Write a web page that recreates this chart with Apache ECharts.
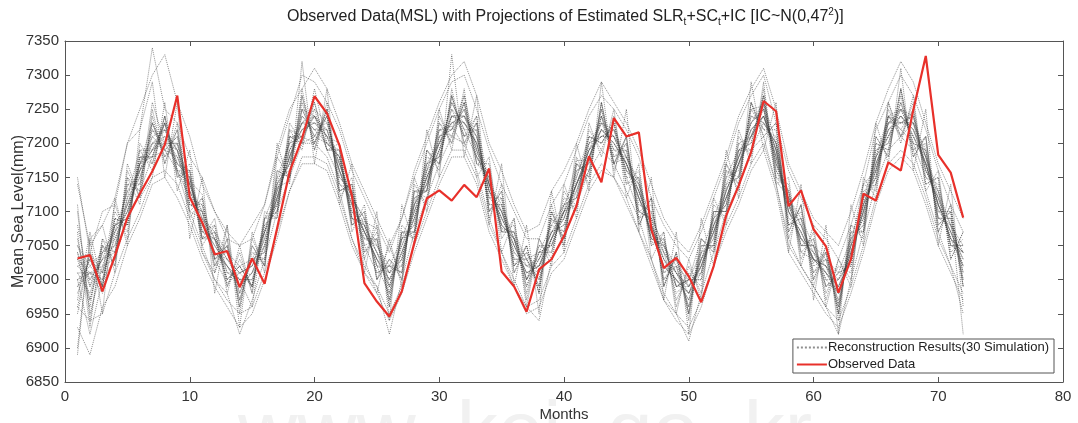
<!DOCTYPE html>
<html>
<head>
<meta charset="utf-8">
<script src="https://cdn.jsdelivr.net/npm/echarts@6/dist/echarts.min.js"></script>
<style>
  html, body { margin: 0; padding: 0; background: #fff; }
  #chart { width: 1078px; height: 423px; }
</style>
</head>
<body>
<div id="chart"></div>
<script>
// x axis: months 1..72
const months = [
  1, 2, 3, 4, 5, 6, 7, 8, 9, 10, 11, 12,
  13, 14, 15, 16, 17, 18, 19, 20, 21, 22, 23, 24,
  25, 26, 27, 28, 29, 30, 31, 32, 33, 34, 35, 36,
  37, 38, 39, 40, 41, 42, 43, 44, 45, 46, 47, 48,
  49, 50, 51, 52, 53, 54, 55, 56, 57, 58, 59, 60,
  61, 62, 63, 64, 65, 66, 67, 68, 69, 70, 71, 72
]

// observed mean sea level (mm)
const observed = [
  7031, 7036, 6983, 7035, 7091, 7126, 7159, 7198, 7270, 7121, 7084, 7037,
  7042, 6989, 7031, 6994, 7075, 7158, 7207, 7269, 7244, 7197, 7123, 6995,
  6968, 6946, 6983, 7054, 7119, 7131, 7116, 7139, 7121, 7163, 7012, 6990,
  6953, 7015, 7030, 7064, 7108, 7181, 7143, 7237, 7210, 7216, 7074, 7017,
  7032, 7005, 6967, 7020, 7094, 7138, 7187, 7262, 7247, 7108, 7131, 7074,
  7049, 6981, 7030, 7126, 7116, 7172, 7160, 7249, 7328, 7183, 7157, 7091
]

// 30 reconstruction runs (estimated from the tangle of dotted lines)
const sim01 = [7040,6990,7050,7040,7120,7190,7190,7230,7155,7145,7125,7030, 6995,7010,6990,7090,7135,7145,7250,7240,7210,7200,7090,7085, 7075,6990,7060,7070,7160,7220,7225,7195,7230,7140,7075,7070, 7000,7050,7050,7100,7175,7175,7240,7170,7180,7145,7055,7055, 6990,7000,7060,7045,7135,7150,7250,7255,7145,7120,7080,7025, 7040,6965,7050,7140,7160,7240,7210,7230,7190,7100,7100,6990]
const sim02 = [6980,7030,6990,7090,7080,7170,7230,7180,7200,7110,7100,7020, 7050,6970,7030,7040,7150,7200,7210,7260,7190,7150,7130,7050, 7010,7020,7010,7120,7130,7230,7210,7260,7170,7150,7070,7070, 7030,6990,7090,7060,7150,7210,7200,7230,7150,7100,7090,7000, 7020,6960,7040,7050,7150,7190,7200,7270,7160,7120,7050,7060, 6990,7010,7020,7120,7150,7240,7220,7200,7190,7090,7090,7010]
const sim03 = [7060,6970,7040,7050,7130,7140,7220,7190,7210,7150,7060,7070, 7000,7020,6990,7080,7100,7210,7200,7210,7240,7140,7120,7090, 7020,6980,7060,7080,7170,7180,7250,7210,7220,7110,7110,7030, 7030,7000,7060,7110,7120,7160,7240,7190,7190,7110,7100,7040, 6980,7000,7000,7100,7100,7190,7190,7230,7200,7080,7090,7010, 7030,6960,7060,7080,7190,7200,7260,7200,7150,7130,7050,7050]
const sim04 = [6990,7010,7000,7080,7090,7180,7180,7240,7160,7120,7110,7030, 7040,6980,7030,7030,7140,7170,7250,7210,7200,7190,7090,7060, 7050,7010,7020,7110,7140,7190,7260,7220,7180,7150,7080,7060, 6990,7040,7050,7100,7110,7200,7210,7220,7160,7140,7060,7050, 7010,6970,7030,7060,7140,7150,7240,7230,7200,7110,7060,7050, 6990,7000,7030,7110,7150,7230,7230,7240,7160,7120,7060,7040]
const sim05 = [7100,6950,7020,7030,7150,7130,7260,7200,7170,7160,7070,7080, 7010,7000,6960,7090,7110,7220,7190,7280,7200,7180,7080,7100, 7000,7030,7000,7130,7120,7210,7220,7270,7190,7120,7120,7020, 7040,7010,7080,7070,7160,7170,7250,7180,7200,7100,7110,7010, 7030,6990,7010,7090,7110,7200,7210,7260,7170,7130,7040,7030, 7020,6970,7050,7090,7180,7210,7250,7210,7180,7090,7080,7000]
const sim06 = [7030,7010,6980,7070,7100,7170,7210,7220,7190,7100,7090,7060, 7030,7010,7020,7070,7110,7190,7220,7240,7210,7160,7100,7080, 7040,6990,7050,7090,7160,7180,7240,7240,7210,7120,7100,7040, 7020,7010,7060,7100,7140,7190,7210,7210,7170,7130,7070,7030, 7010,6990,7020,7070,7130,7180,7220,7240,7190,7090,7080,7030, 7020,6990,7030,7100,7160,7230,7240,7220,7180,7110,7060,7040]
const sim07 = [6900,7060,7080,7010,7170,7120,7150,7260,7130,7190,7040,7010, 7080,6950,7060,7020,7180,7150,7280,7190,7260,7120,7150,7030, 6980,7060,6990,7150,7100,7250,7190,7280,7150,7180,7040,7090, 6960,7060,7020,7140,7090,7230,7180,7250,7120,7170,7030,7070, 6950,7030,6970,7120,7080,7220,7170,7290,7140,7150,7020,7080, 6960,7030,6990,7150,7120,7260,7200,7270,7130,7160,7030,7070]
const sim08 = [7010,6980,7040,7060,7100,7160,7190,7200,7200,7140,7080,7040, 7020,6990,7010,7050,7130,7180,7240,7220,7230,7160,7120,7070, 7030,7000,7030,7100,7140,7210,7230,7240,7190,7140,7090,7060, 7000,7030,7070,7080,7140,7180,7230,7190,7180,7120,7080,7020, 7000,6970,7030,7070,7120,7170,7230,7250,7180,7110,7060,7040, 7000,6980,7050,7090,7180,7210,7250,7210,7170,7100,7080,7020]
const sim09 = [6950,7040,7010,7110,7060,7200,7170,7230,7150,7170,7060,7090, 6990,7040,6980,7100,7090,7220,7210,7200,7250,7130,7140,7040, 7060,6970,7070,7060,7190,7170,7270,7200,7230,7100,7130,7010, 7050,6980,7100,7050,7170,7150,7260,7170,7210,7090,7120,6990, 7040,6950,7060,7040,7160,7140,7260,7220,7220,7070,7110,7000, 7050,6950,7080,7070,7200,7190,7280,7180,7210,7070,7110,6990]
const sim10 = [7020,7000,7030,7040,7120,7150,7210,7190,7180,7130,7100,7040, 7030,7000,7000,7070,7120,7190,7220,7230,7210,7180,7100,7070, 7030,7010,7030,7110,7150,7190,7240,7230,7200,7130,7100,7040, 7020,7020,7060,7090,7140,7180,7220,7210,7170,7120,7080,7030, 6990,6990,7020,7080,7120,7170,7210,7240,7190,7100,7070,7030, 7020,6980,7040,7110,7160,7220,7230,7230,7170,7110,7070,7030]
const sim11 = [7070,6930,7060,7020,7150,7110,7250,7170,7230,7090,7120,7010, 7060,6960,7050,7020,7160,7150,7270,7190,7250,7130,7140,7030, 7080,6960,7080,7060,7190,7160,7280,7200,7240,7090,7140,7010, 7050,6980,7110,7050,7180,7140,7260,7160,7210,7080,7120,6990, 7040,6940,7060,7040,7170,7130,7260,7210,7230,7060,7110,6990, 7050,6940,7080,7060,7210,7180,7280,7180,7210,7070,7110,6990]
const sim12 = [7000,7020,7000,7080,7090,7170,7190,7220,7170,7150,7070,7060, 7010,7010,7020,7050,7130,7170,7240,7220,7200,7180,7090,7080, 7020,7010,7030,7110,7140,7210,7220,7250,7190,7140,7080,7060, 7000,7030,7060,7100,7130,7190,7210,7210,7160,7130,7070,7040, 7010,6980,7010,7080,7110,7180,7210,7250,7170,7110,7060,7040, 7010,6990,7030,7110,7160,7230,7230,7230,7160,7120,7060,7040]
const sim13 = [7140,7050,7080,7120,7200,7220,7340,7250,7230,7180,7150,7100, 7060,7050,7060,7110,7180,7240,7300,7290,7260,7220,7160,7120, 7080,7040,7090,7150,7200,7250,7290,7300,7250,7190,7140,7100, 7060,7060,7110,7140,7190,7240,7270,7250,7220,7180,7120,7080, 7050,7030,7070,7120,7170,7230,7270,7300,7230,7160,7120,7080, 7060,7030,7080,7140,7220,7260,7300,7270,7220,7160,7110,7070]
const sim14 = [6930,6890,6960,6990,7050,7090,7140,7150,7120,7080,7030,6990, 6960,6930,6950,7000,7060,7130,7170,7170,7160,7110,7050,7010, 6980,6940,6980,7040,7090,7140,7180,7180,7140,7070,7030,6990, 6950,6960,7010,7030,7080,7130,7160,7150,7110,7070,7020,6970, 6940,6920,6960,7020,7070,7110,7160,7190,7130,7040,7010,6980, 6950,6930,6980,7040,7110,7160,7180,7160,7110,7050,7010,6970]
const sim15 = [7050,7020,7040,7070,7130,7160,7220,7200,7200,7140,7090,7070, 7040,7020,7030,7070,7140,7200,7230,7250,7230,7170,7120,7090, 7050,7020,7060,7110,7170,7200,7250,7230,7210,7140,7110,7060, 7030,7040,7080,7110,7150,7200,7230,7220,7180,7140,7090,7050, 7020,7000,7040,7090,7140,7180,7230,7260,7200,7120,7090,7050, 7030,7010,7060,7120,7180,7240,7250,7240,7180,7130,7080,7050]
const sim16 = [6970,7070,6990,7100,7070,7190,7160,7240,7150,7160,7050,7080, 6980,7050,6980,7090,7090,7230,7200,7260,7190,7200,7070,7110, 7000,7050,7000,7140,7110,7240,7200,7270,7170,7170,7060,7090, 6970,7060,7030,7130,7100,7220,7190,7240,7140,7160,7050,7070, 6960,7020,6980,7110,7090,7210,7180,7280,7150,7140,7030,7070, 6970,7030,7000,7140,7130,7260,7210,7260,7140,7150,7030,7070]
const sim17 = [7030,6970,7050,7030,7140,7140,7230,7180,7220,7110,7110,7030, 7050,6970,7040,7030,7150,7160,7260,7200,7240,7140,7130,7050, 7060,6970,7070,7070,7180,7170,7270,7210,7230,7100,7120,7020, 7040,6990,7100,7060,7170,7160,7250,7170,7200,7090,7100,7000, 7030,6950,7050,7050,7160,7150,7250,7220,7210,7080,7100,7010, 7040,6950,7070,7070,7200,7190,7270,7190,7200,7080,7100,7000]
const sim18 = [6990,7030,7010,7080,7090,7170,7180,7230,7160,7150,7060,7060, 7000,7020,6990,7080,7100,7210,7210,7240,7190,7190,7080,7090, 7010,7020,7010,7130,7130,7220,7210,7260,7180,7150,7070,7070, 6990,7040,7040,7110,7120,7210,7200,7230,7150,7150,7060,7060, 6990,7000,7000,7100,7100,7190,7200,7270,7160,7130,7050,7050, 6990,7010,7020,7120,7140,7240,7220,7250,7150,7140,7050,7050]
const sim19 = [7080,6990,7030,7050,7110,7160,7200,7210,7190,7130,7080,7050, 7020,6990,7010,7060,7120,7180,7230,7230,7220,7160,7110,7070, 7030,6990,7040,7100,7150,7190,7240,7230,7200,7130,7090,7050, 7010,7020,7070,7090,7140,7180,7220,7200,7170,7120,7070,7020, 7000,6980,7020,7070,7130,7170,7220,7240,7180,7100,7070,7030, 7010,6980,7040,7100,7170,7220,7240,7220,7170,7110,7070,7030]
const sim20 = [6890,7060,6950,7120,7050,7220,7290,7150,7260,7060,7150,6980, 7080,6930,7070,7010,7200,7140,7320,7170,7280,7110,7170,7010, 7100,6940,7110,7050,7220,7150,7330,7180,7270,7080,7170,6990, 7080,6950,7130,7040,7200,7130,7290,7150,7250,7070,7150,6970, 7070,6920,7090,7020,7190,7120,7290,7190,7260,7040,7140,6970, 7080,6920,7110,7050,7230,7170,7310,7160,7250,7050,7140,6960]
const sim21 = [7010,7010,7020,7070,7100,7160,7190,7210,7180,7140,7080,7050, 7020,7000,7010,7060,7120,7180,7220,7230,7210,7170,7110,7070, 7040,7000,7040,7090,7150,7200,7230,7240,7200,7130,7090,7050, 7010,7020,7060,7090,7140,7190,7220,7200,7170,7130,7080,7030, 7000,6980,7030,7070,7120,7170,7220,7240,7190,7100,7060,7030, 7010,6990,7040,7100,7170,7220,7240,7220,7170,7110,7060,7020]
const sim22 = [7040,6960,7060,7040,7140,7130,7230,7190,7210,7110,7100,7030, 7050,6980,7030,7040,7140,7170,7250,7210,7240,7150,7130,7060, 7060,6980,7060,7080,7170,7180,7260,7220,7220,7110,7110,7030, 7030,7000,7090,7070,7160,7170,7240,7180,7190,7100,7090,7010, 7020,6960,7040,7060,7150,7160,7240,7230,7200,7080,7090,7020, 7030,6960,7060,7080,7190,7200,7260,7200,7190,7090,7090,7010]
const sim23 = [6960,7040,6990,7090,7080,7180,7170,7240,7160,7160,7060,7070, 6990,7030,6990,7090,7100,7210,7200,7250,7190,7190,7080,7100, 7000,7030,7010,7130,7130,7230,7200,7260,7170,7160,7070,7080, 6980,7050,7040,7120,7110,7210,7200,7230,7140,7150,7050,7060, 6970,7010,6990,7100,7100,7200,7190,7270,7150,7130,7040,7060, 6980,7020,7010,7130,7140,7250,7210,7250,7140,7150,7040,7060]
const sim24 = [7000,6920,7000,7030,7090,7130,7180,7190,7160,7100,7050,7000, 6980,6920,6970,7030,7100,7150,7200,7200,7180,7130,7060,7010, 6990,6920,7000,7070,7120,7170,7210,7200,7160,7090,7040,6990, 6960,6940,7030,7060,7110,7160,7190,7170,7130,7090,7030,6970, 6950,6910,6980,7040,7100,7140,7190,7210,7140,7060,7020,6990, 6960,6920,7000,7070,7140,7190,7210,7190,7130,7070,7020,6950]
const sim25 = [7050,7000,7030,7080,7110,7170,7200,7220,7190,7140,7100,7060, 7030,7010,7020,7070,7130,7190,7230,7240,7220,7170,7120,7080, 7040,7010,7050,7100,7160,7200,7240,7240,7210,7140,7100,7060, 7020,7030,7070,7100,7140,7190,7230,7210,7180,7130,7080,7040, 7010,6990,7030,7080,7130,7180,7230,7250,7190,7110,7080,7040, 7020,7000,7050,7110,7180,7230,7250,7230,7180,7120,7080,7040]
const sim26 = [7020,7030,6990,7090,7080,7180,7180,7230,7170,7150,7070,7060, 7000,7020,6990,7070,7110,7200,7210,7240,7200,7180,7090,7080, 7020,7020,7020,7120,7130,7220,7220,7250,7180,7140,7080,7060, 7000,7040,7050,7100,7120,7200,7210,7220,7160,7140,7060,7050, 6990,7000,7010,7090,7110,7190,7210,7260,7170,7120,7050,7050, 7000,7000,7030,7120,7150,7240,7230,7240,7160,7130,7050,7040]
const sim27 = [7110,6940,7050,7020,7160,7120,7240,7170,7220,7100,7120,7020, 7060,6960,7050,7020,7160,7150,7270,7200,7250,7130,7140,7040, 7070,6960,7070,7070,7190,7170,7270,7210,7240,7100,7130,7020, 7050,6980,7100,7060,7170,7150,7260,7170,7210,7080,7120,6990, 7040,6950,7050,7050,7170,7140,7260,7210,7230,7070,7110,7000, 7040,6950,7070,7070,7210,7180,7280,7190,7210,7080,7100,6920]
const sim28 = [7000,7010,7010,7060,7110,7150,7200,7200,7190,7130,7090,7040, 7020,7000,7000,7050,7120,7180,7230,7220,7220,7160,7110,7070, 7030,7000,7040,7090,7150,7200,7230,7230,7200,7130,7100,7050, 7010,7020,7070,7080,7130,7180,7220,7200,7170,7120,7070,7020, 7000,6980,7020,7080,7120,7170,7210,7240,7180,7100,7070,7030, 7010,6980,7040,7100,7170,7210,7240,7210,7170,7110,7070,7020]
const sim29 = [7150,7040,7100,7110,7200,7250,7300,7330,7260,7210,7140,7100, 7070,7050,7080,7110,7190,7250,7280,7310,7280,7230,7170,7130, 7090,7050,7090,7160,7210,7260,7300,7320,7270,7200,7160,7110, 7070,7080,7130,7160,7200,7250,7290,7260,7230,7190,7140,7090, 7060,7040,7080,7130,7180,7240,7280,7310,7250,7170,7130,7090, 7070,7050,7100,7160,7230,7280,7320,7290,7230,7170,7130,7090]
const sim30 = [6960,6940,6950,7010,7060,7100,7150,7160,7140,7090,7040,7000, 6970,6950,6960,7010,7070,7130,7180,7180,7170,7120,7060,7020, 6990,6950,6990,7050,7100,7150,7190,7190,7150,7080,7040,7000, 6960,6970,7020,7040,7090,7140,7170,7150,7120,7070,7030,6980, 6950,6930,6970,7020,7080,7120,7170,7200,7140,7050,7020,6990, 6960,6940,6990,7050,7120,7170,7190,7170,7120,7060,7020,6980]

const simulations = [
  sim01, sim02, sim03, sim04, sim05, sim06, sim07, sim08, sim09, sim10,
  sim11, sim12, sim13, sim14, sim15, sim16, sim17, sim18, sim19, sim20,
  sim21, sim22, sim23, sim24, sim25, sim26, sim27, sim28, sim29, sim30
]

const simName = 'Reconstruction Results(30 Simulation)'
const obsName = 'Observed Data'
const FONT = '"Liberation Sans", Arial, sans-serif'

const chart = echarts.init(document.getElementById('chart'))

// pair months with values for a value-type x axis
const toPairs = (vals) => vals.map((v, i) => [months[i], v])

const simSeries = simulations.map((vals) => ({
  name: simName,
  type: 'line',
  data: toPairs(vals),
  showSymbol: false,
  symbol: 'none',
  silent: true,
  z: 2,
  lineStyle: { type: 'dotted', width: 1, color: '#444', opacity: 0.6 },
  itemStyle: { color: '#444' }
}))

const axisCommon = {
  axisLine: { show: true, onZero: false, lineStyle: { color: '#555', width: 1 } },
  axisTick: { show: true, inside: true, length: 5, lineStyle: { color: '#555' } },
  splitLine: { show: false }
}

const option = {
  animation: false,
  backgroundColor: '#fff',
  textStyle: { fontFamily: FONT },
  grid: { left: 65, right: 15, top: 41, bottom: 41, outerBoundsMode: 'none' },
  xAxis: [
    {
      type: 'value', min: 0, max: 80, interval: 10, position: 'bottom',
      ...axisCommon,
      axisLabel: { color: '#333', fontSize: 15, margin: 7, fontFamily: FONT },
      name: 'Months', nameLocation: 'middle', nameGap: 25, nameMoveOverlap: false,
      nameTextStyle: { color: '#333', fontSize: 15, fontFamily: FONT }
    },
    {
      type: 'value', min: 0, max: 80, interval: 10, position: 'top',
      ...axisCommon,
      axisLabel: { show: false }
    }
  ],
  yAxis: [
    {
      type: 'value', min: 6850, max: 7350, interval: 50, position: 'left',
      ...axisCommon,
      axisLabel: { color: '#333', fontSize: 15, margin: 6, fontFamily: FONT, formatter: (v) => String(v) },
      name: 'Mean Sea Level(mm)', nameLocation: 'middle', nameGap: 38, nameMoveOverlap: false,
      nameTextStyle: { color: '#333', fontSize: 16, fontFamily: FONT }
    },
    {
      type: 'value', min: 6850, max: 7350, interval: 50, position: 'right',
      ...axisCommon,
      axisLabel: { show: false }
    }
  ],
  legend: {
    orient: 'vertical',
    right: 24,
    bottom: 50,
    data: [simName, obsName],
    backgroundColor: '#fff',
    borderColor: '#555',
    borderWidth: 1,
    borderRadius: 0,
    padding: [2, 5, 2, 3],
    itemGap: 4,
    itemWidth: 30,
    itemHeight: 14,
    itemStyle: { opacity: 0 },
    textStyle: { color: '#222', fontSize: 13, fontFamily: FONT, padding: [0, 0, 0, -4] }
  },
  graphic: [
    {
      type: 'text',
      left: 287,
      top: 7,
      z: 10,
      style: {
        text: '{n|Observed Data(MSL) with Projections of Estimated SLR}{s|t}{n|+SC}{s|t}{n|+IC [IC~N(0,47}{p|2}{n|)]}',
        rich: {
          n: { fontSize: 16, fontFamily: FONT, fill: '#222', lineHeight: 20, verticalAlign: 'middle' },
          s: { fontSize: 10, fontFamily: FONT, fill: '#222', lineHeight: 12, verticalAlign: 'bottom' },
          p: { fontSize: 10, fontFamily: FONT, fill: '#222', lineHeight: 12, verticalAlign: 'top' }
        }
      }
    },
    {
      // faint watermark along the bottom edge
      type: 'text',
      left: 238,
      top: 394,
      z: -10,
      silent: true,
      style: {
        text: 'www. kei. go. kr',
        fontSize: 82,
        fontFamily: FONT,
        fill: '#f1f1f1'
      }
    }
  ],
  series: [
    ...simSeries,
    {
      name: obsName,
      type: 'line',
      data: toPairs(observed),
      showSymbol: false,
      symbol: 'none',
      z: 5,
      lineStyle: { color: '#e8302a', width: 2.2 },
      itemStyle: { color: '#e8302a' }
    }
  ]
}

chart.setOption(option)
</script>
</body>
</html>
